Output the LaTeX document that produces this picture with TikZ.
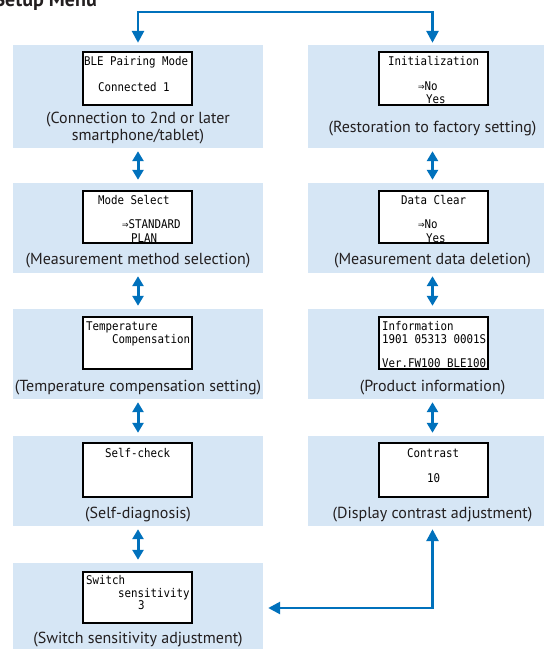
\documentclass[tikz,border=0pt]{standalone}
\usepackage{fontspec}
\setmainfont{PT Sans}
\newfontfamily\lcdfont[FakeStretch=0.9]{DejaVu Sans Mono}
\usetikzlibrary{arrows.meta}
\definecolor{arrowblue}{RGB}{0,113,188}
\definecolor{panelblue}{RGB}{214,230,245}
\definecolor{captext}{RGB}{35,31,32}
\begin{document}
\begin{tikzpicture}[x=1pt,y=-1pt,
  panel/.style={fill=panelblue, draw=none, inner sep=0, minimum width=250pt, minimum height=90pt},
  screen/.style={fill=white, draw=black, line width=1.2pt, inner sep=0, minimum width=109pt, minimum height=53pt},
  captxt/.style={anchor=base, inner sep=0, text=captext, font=\fontsize{16}{18}\selectfont},
  lcd/.style={anchor=base west, inner sep=0, text=black, font=\lcdfont\fontsize{12}{12}\selectfont},
  dbl/.style={draw=arrowblue, line width=3pt, {Triangle[width=11pt,length=10pt]}-{Triangle[width=11pt,length=10pt]}, shorten >=3pt, shorten <=3pt},
  conn/.style={draw=arrowblue, line width=2.7pt, {Triangle[width=12pt,length=12pt]}-{Triangle[width=12pt,length=12pt]}}
]
\clip (0,0) rectangle (544,649);
\fill[white] (0,0) rectangle (544,649);

% title
\node[anchor=base east, inner sep=0, text=captext, font=\bfseries\fontsize{20}{20}\selectfont] (title) at (97,6) {Setup Menu};

% panels
\node[panel, minimum height=103pt] (l1) at (138,96.5) {};
\node[panel] (l2) at (138,228) {};
\node[panel] (l3) at (138,354) {};
\node[panel] (l4) at (138,481) {};
\node[panel] (l5) at (138,608) {};
\node[panel, minimum height=103pt] (r1) at (432.5,96.5) {};
\node[panel] (r2) at (432.5,228) {};
\node[panel] (r3) at (432.5,354) {};
\node[panel] (r4) at (432.5,481) {};

% screens
\node[screen] (sl1) at (137.5,78.5) {};
\node[screen, minimum height=52pt] (sl2) at (137.5,217) {};
\node[screen, minimum height=52pt] (sl3) at (137.5,343) {};
\node[screen, minimum height=54pt] (sl4) at (137.5,470) {};
\node[screen, minimum height=51pt] (sl5) at (137.5,597.5) {};
\node[screen] (sr1) at (433.5,78.5) {};
\node[screen, minimum height=52pt] (sr2) at (433.5,217) {};
\node[screen, minimum height=52pt] (sr3) at (433.5,343) {};
\node[screen, minimum height=54pt] (sr4) at (433.5,470) {};

% screen texts
\node[lcd] (t11) at (84,65) {BLE Pairing Mode};
\node[lcd] (t12) at (98,91) {Connected 1};
\node[lcd] (t21) at (98,204) {Mode Select};
\node[lcd] (t22) at (122,228) {⇒STANDARD};
\node[lcd] (t23) at (131,242) {PLAN};
\node[lcd] (t31) at (86,330) {Temperature};
\node[lcd] (t32) at (112,343) {Compensation};
\node[lcd] (t41) at (105,457) {Self-check};
\node[lcd] (t51) at (86,584) {Switch};
\node[lcd] (t52) at (118,597) {sensitivity};
\node[lcd] (t53) at (138,609) {3};

\node[lcd] (u11) at (388,65) {Initialization};
\node[lcd] (u12) at (418,90) {⇒No};
\node[lcd] (u13) at (426,103) {Yes};
\node[lcd] (u21) at (401,204) {Data Clear};
\node[lcd] (u22) at (418,228) {⇒No};
\node[lcd] (u23) at (426,242) {Yes};
\node[lcd] (u31) at (382,330) {Information};
\node[lcd] (u32) at (382,343) {1901 05313 0001S};
\node[lcd] (u33) at (382,367) {Ver.FW100 BLE100};
\node[lcd] (u41) at (407,457) {Contrast};
\node[lcd] (u42) at (427,482) {10};

% captions
\node[captxt] (c1a) at (138,123) {(Connection to 2nd or later};
\node[captxt] (c1b) at (138,140) {smartphone/tablet)};
\node[captxt] (c2) at (138,264) {(Measurement method selection)};
\node[captxt] (c3) at (138,391) {(Temperature compensation setting)};
\node[captxt] (c4) at (138,518) {(Self-diagnosis)};
\node[captxt] (c5) at (138,643) {(Switch sensitivity adjustment)};
\node[captxt] (d1) at (432.5,132) {(Restoration to factory setting)};
\node[captxt] (d2) at (432.5,264) {(Measurement data deletion)};
\node[captxt] (d3) at (432.5,391) {(Product information)};
\node[captxt] (d4) at (432.5,518) {(Display contrast adjustment)};

% double arrows
\draw[dbl] (l1.south) -- (l2.north);
\draw[dbl] (l2.south) -- (l3.north);
\draw[dbl] (l3.south) -- (l4.north);
\draw[dbl] (l4.south) -- (l5.north);
\draw[dbl] (r1.south) -- (r2.north);
\draw[dbl] (r2.south) -- (r3.north);
\draw[dbl] (r3.south) -- (r4.north);

% loop connectors
\coordinate (topmid) at (285,12);
\draw[conn] ([yshift=2pt]l1.north) |- (topmid) -| ([yshift=2pt]r1.north);
\draw[conn] ([yshift=-3pt]r4.south) |- ([xshift=5pt]l5.east);
\end{tikzpicture}
\end{document}
